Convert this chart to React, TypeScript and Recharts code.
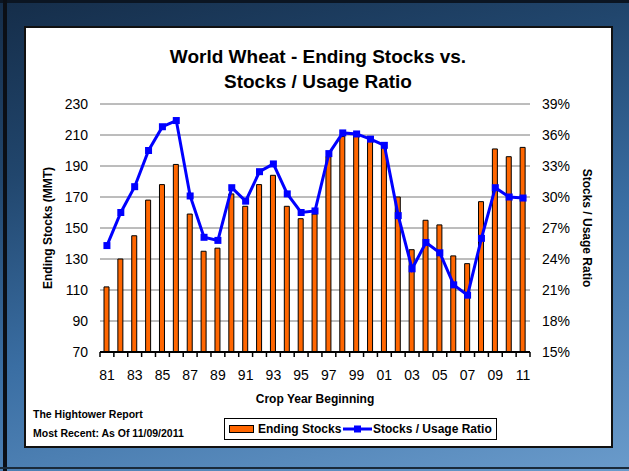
import { ComposedChart, Bar, Line, XAxis, YAxis, CartesianGrid } from "recharts";

const years = [
  "81", "82", "83", "84", "85", "86", "87", "88", "89", "90", "91", "92", "93", "94", "95", "96",
  "97", "98", "99", "00", "01", "02", "03", "04", "05", "06", "07", "08", "09", "10", "11",
];
const endingStocks = [
  112, 130, 145, 168, 178, 191, 159, 135, 137, 172, 164, 178, 184, 164, 156, 159,
  196, 209, 210, 207, 204, 170, 136, 155, 152, 132, 127, 167, 201, 196, 202,
];
const stocksUsage = [
  25.3, 28.5, 31.0, 34.5, 36.8, 37.4, 30.1, 26.1, 25.8, 30.9, 29.6, 32.45, 33.2, 30.3, 28.5, 28.65,
  34.2, 36.2, 36.1, 35.6, 35.0, 28.2, 23.05, 25.6, 24.6, 21.5, 20.5, 26.0, 30.9, 30.0, 29.9,
];
const leftTicks = [70, 90, 110, 130, 150, 170, 190, 210, 230];
const rightTicks = [15, 18, 21, 24, 27, 30, 33, 36, 39];

const data = years.map((y, i) => ({ year: y, stocks: endingStocks[i], ratio: stocksUsage[i] }));

const FONT = '"Liberation Sans", Arial, sans-serif';
const W = 629;
const H = 471;
const PLOT_W = 430;

function YearTick(props: any) {
  const { x, y, payload, index } = props;
  const band = PLOT_W / years.length;
  return (
    <g>
      <line x1={x - band / 2} x2={x - band / 2} y1={y} y2={y + 5} stroke="#000" strokeWidth={1.5} />
      {index === years.length - 1 && (
        <line x1={x + band / 2} x2={x + band / 2} y1={y} y2={y + 5} stroke="#000" strokeWidth={1.5} />
      )}
      {index % 2 === 0 && (
        <text x={x} y={y + 28} textAnchor="middle" fontSize={14} fontFamily={FONT} fill="#000">
          {payload.value}
        </text>
      )}
    </g>
  );
}

function SquareDot(props: any) {
  const { cx, cy } = props;
  if (cx == null || cy == null) return null;
  return <rect x={cx - 3.5} y={cy - 3.5} width={7} height={7} fill="#0000FF" />;
}

export default function App() {
  return (
    <div
      style={{
        position: "absolute",
        left: 0,
        top: 0,
        width: W,
        height: H,
        overflow: "hidden",
        background: "linear-gradient(165deg, #152d49 0%, #21466d 28%, #3a6ea3 58%, #6a9bcb 100%)",
      }}
    >
      <div style={{ position: "absolute", left: 0, top: 0, width: W, height: 3, background: "#0b1522" }} />
      <div style={{ position: "absolute", left: 3, top: 0, width: 4, height: H, background: "#0b0f16" }} />
      <div style={{ position: "absolute", left: 0, top: 467, width: W, height: 2, background: "#1a2a3a" }} />
      <div
        style={{
          position: "absolute",
          left: 24,
          top: 26,
          width: 589,
          height: 422,
          boxSizing: "border-box",
          background: "#fff",
          border: "2px solid #111",
        }}
      />
      <div style={{ position: "absolute", left: 0, top: 0 }}>
        <ComposedChart width={W} height={H} data={data} margin={{ top: 104, right: 39, bottom: 89, left: 40 }}>
          <CartesianGrid vertical={false} stroke="#7a7a7a" yAxisId="l" />
          <XAxis
            dataKey="year"
            interval={0}
            height={30}
            tickLine={false}
            tickSize={0}
            tickMargin={0}
            axisLine={{ stroke: "#000", strokeWidth: 2 }}
            tick={<YearTick />}
          />
          <YAxis
            yAxisId="l"
            width={60}
            domain={[70, 230]}
            ticks={leftTicks}
            interval={0}
            axisLine={false}
            tickLine={false}
            tickSize={10}
            tickMargin={2}
            tick={{ fontSize: 14, fill: "#000", fontFamily: FONT }}
          />
          <YAxis
            yAxisId="r"
            orientation="right"
            width={60}
            domain={[15, 39]}
            ticks={rightTicks}
            interval={0}
            axisLine={false}
            tickLine={false}
            tickSize={10}
            tickMargin={2}
            tickFormatter={(v: number) => `${v}%`}
            tick={{ fontSize: 14, fill: "#000", fontFamily: FONT }}
          />
          <Bar
            yAxisId="l"
            dataKey="stocks"
            barSize={5}
            fill="#FF6600"
            stroke="#000"
            strokeWidth={1}
            isAnimationActive={false}
          />
          <Line
            yAxisId="r"
            dataKey="ratio"
            stroke="#0000FF"
            strokeWidth={3}
            dot={<SquareDot />}
            activeDot={false}
            isAnimationActive={false}
          />
        </ComposedChart>
      </div>
      <svg
        width={W}
        height={H}
        style={{ position: "absolute", left: 0, top: 0, pointerEvents: "none" }}
        fontFamily={FONT}
      >
        <text x={318} y={63} textAnchor="middle" fontSize={19} fontWeight="bold">
          World Wheat - Ending Stocks vs.
        </text>
        <text x={318} y={88} textAnchor="middle" fontSize={19} fontWeight="bold">
          Stocks / Usage Ratio
        </text>
        <text transform="translate(48,228) rotate(-90)" textAnchor="middle" dy="0.35em" fontSize={12} fontWeight="bold">
          Ending Stocks (MMT)
        </text>
        <text transform="translate(587,228) rotate(90)" textAnchor="middle" dy="0.35em" fontSize={12} fontWeight="bold">
          Stocks / Usage Ratio
        </text>
        <text x={315} y={403} textAnchor="middle" fontSize={12} fontWeight="bold">
          Crop Year Beginning
        </text>
        <text x={33} y={418} fontSize={10.5} fontWeight="bold">
          The Hightower Report
        </text>
        <text x={33} y={437} fontSize={10.5} fontWeight="bold">
          Most Recent: As Of 11/09/2011
        </text>
        <rect x={224.5} y={418.5} width={272} height={21} fill="#fff" stroke="#000" strokeWidth={1} />
        <rect x={229.5} y={425.5} width={24} height={7} fill="#FF6600" stroke="#000" strokeWidth={1} />
        <text x={258} y={433} fontSize={12} fontWeight="bold">
          Ending Stocks
        </text>
        <line x1={343} x2={372} y1={429} y2={429} stroke="#0000FF" strokeWidth={3} />
        <rect x={354} y={425.5} width={7} height={7} fill="#0000FF" />
        <text x={373} y={433} fontSize={12} fontWeight="bold">
          Stocks / Usage Ratio
        </text>
      </svg>
    </div>
  );
}
